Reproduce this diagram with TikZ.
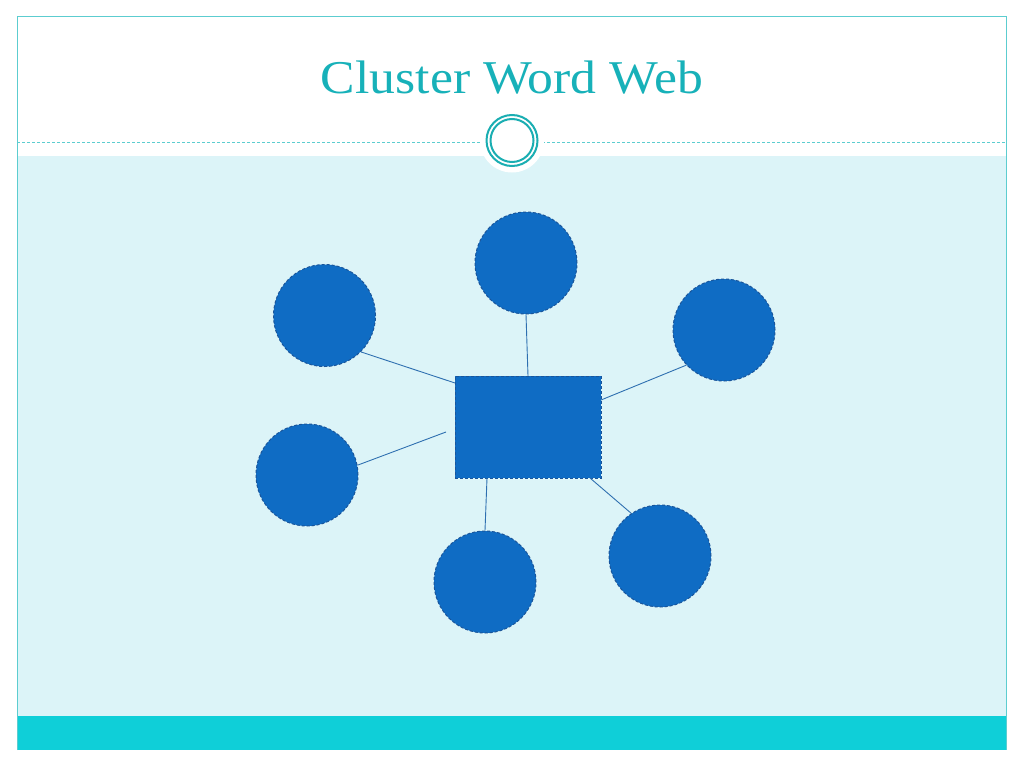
\documentclass[tikz,border=0pt]{standalone}
\usepackage{fontspec}
\setmainfont{Liberation Serif}
\definecolor{titleteal}{HTML}{17B1B9}
\definecolor{frameteal}{HTML}{5CCDD0}
\definecolor{lightbg}{HTML}{DCF4F8}
\definecolor{barteal}{HTML}{0FCFD8}
\definecolor{ringteal}{HTML}{1AAEB2}
\definecolor{nodeblue}{HTML}{0F6CC4}
\definecolor{edgeblue}{HTML}{1A559A}
\definecolor{linkblue}{HTML}{2E6FB0}
\tikzset{
  bubble/.style={circle, fill=nodeblue, draw=edgeblue, densely dashed, line width=1pt, minimum size=102pt, inner sep=0pt},
  hub/.style={rectangle, fill=nodeblue, draw=edgeblue, densely dashed, line width=1pt, minimum width=146pt, minimum height=102pt, inner sep=0pt},
  link/.style={draw=linkblue, line width=0.9pt},
}
\begin{document}
\begin{tikzpicture}[x=1pt,y=-1pt]
\useasboundingbox (0,0) rectangle (1024,768);
\fill[white] (0,0) rectangle (1024,768);
% light background
\fill[lightbg] (17,156) rectangle (1006,716);
% bottom bar
\fill[barteal] (17,716) rectangle (1006,750);
% frame
\draw[frameteal, line width=1pt] (17,750) -- (17,17) -- (1006,17) -- (1006,750);
% dashed separator
\draw[frameteal, line width=1pt, densely dashed] (17,142.5) -- (1006,142.5);
% ornament
\fill[white] (512,140.5) circle (32);
\draw[ringteal, line width=2pt] (512,140.5) circle (25.5);
\draw[ringteal, line width=2pt] (512,140.5) circle (21.5);
% title
\node[text=titleteal, font=\fontsize{47}{56}\selectfont, anchor=base] (title) at (512,93) {\scalebox{1.1}[1]{Cluster Word Web}};
% nodes
\node[hub] (hub) at (528,427) {};
\node[bubble] (c1) at (324.5,315.5) {};
\node[bubble] (c2) at (526,263) {};
\node[bubble] (c3) at (724,330) {};
\node[bubble] (c4) at (307,475) {};
\node[bubble] (c5) at (485,582) {};
\node[bubble] (c6) at (660,556) {};
% link end points on the hub
\coordinate (h1) at (455,383);
\coordinate (h2) at (528,376);
\coordinate (h3) at (601,400);
\coordinate (gap) at (446,432);
\coordinate (h5) at (487,478);
\coordinate (h6) at (590,478);
% links
\draw[link] (c1.-45) -- (h1);
\draw[link] (c2.south) -- (h2);
\draw[link] (c3.-137) -- (h3);
\draw[link] (c4.11) -- (gap);
\draw[link] (c5.north) -- (h5);
\draw[link] (c6.124) -- (h6);
\end{tikzpicture}
\end{document}
